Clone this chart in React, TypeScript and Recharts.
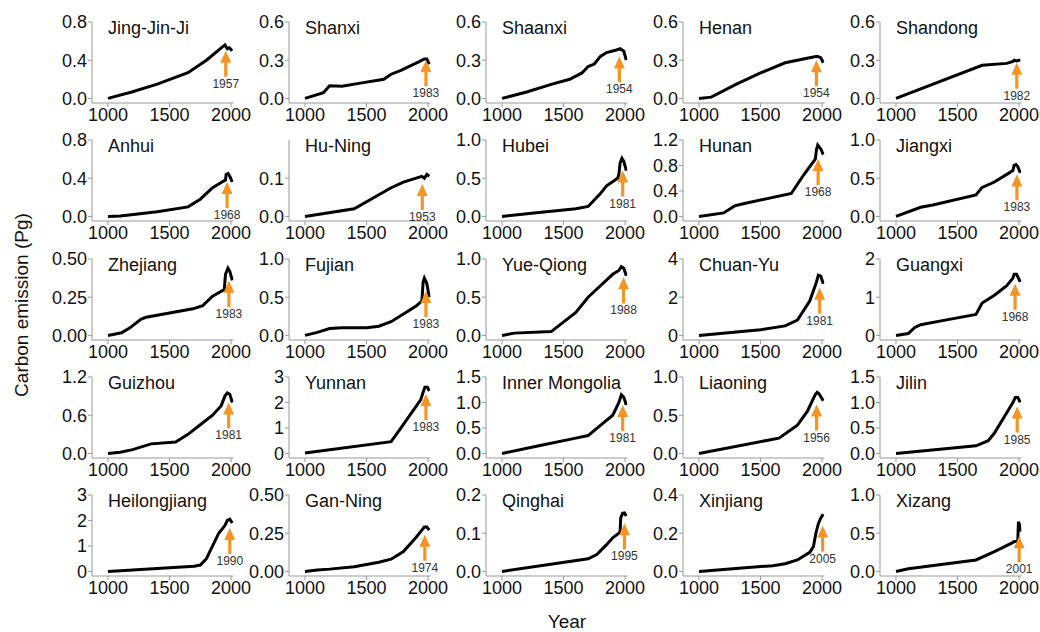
import { LineChart, Line, XAxis, YAxis, ReferenceDot } from 'recharts';

type Pt = [number, number];

const provinces = [
  'Jing-Jin-Ji', 'Shanxi', 'Shaanxi', 'Henan', 'Shandong',
  'Anhui', 'Hu-Ning', 'Hubei', 'Hunan', 'Jiangxi',
  'Zhejiang', 'Fujian', 'Yue-Qiong', 'Chuan-Yu', 'Guangxi',
  'Guizhou', 'Yunnan', 'Inner Mongolia', 'Liaoning', 'Jilin',
  'Heilongjiang', 'Gan-Ning', 'Qinghai', 'Xinjiang', 'Xizang',
];

// year of peak emission marked with the orange arrow
const peakYears = [
  1957, 1983, 1954, 1954, 1982,
  1968, 1953, 1981, 1968, 1983,
  1983, 1983, 1988, 1981, 1968,
  1981, 1983, 1981, 1956, 1985,
  1990, 1974, 1995, 2005, 2001,
];

// value where the arrow tip sits
const arrowTips = [
  0.5, 0.3, 0.33, 0.3, 0.28,
  0.36, 0.085, 0.6, 0.9, 0.55,
  0.357, 0.58, 0.76, 2.5, 1.35,
  0.8, 2.33, 0.95, 0.64, 0.92,
  1.7, 0.24, 0.126, 0.24, 0.46,
];

const yTicks: number[][] = [
  [0, 0.4, 0.8], [0, 0.3, 0.6], [0, 0.3, 0.6], [0, 0.3, 0.6], [0, 0.3, 0.6],
  [0, 0.4, 0.8], [0, 0.1], [0, 0.5, 1], [0, 0.4, 0.8, 1.2], [0, 0.5, 1],
  [0, 0.25, 0.5], [0, 0.5, 1], [0, 0.5, 1], [0, 2, 4], [0, 1, 2],
  [0, 0.6, 1.2], [0, 1, 2, 3], [0, 0.5, 1, 1.5], [0, 0.5, 1], [0, 0.5, 1, 1.5],
  [0, 1, 2, 3], [0, 0.25, 0.5], [0, 0.1, 0.2], [0, 0.2, 0.4], [0, 0.5, 1],
];

const yTops = [
  0.8, 0.6, 0.6, 0.6, 0.6,
  0.8, 0.2, 1, 1.2, 1,
  0.5, 1, 1, 4, 2,
  1.2, 3, 1.5, 1, 1.5,
  3, 0.5, 0.2, 0.4, 1,
];

const yDecimals = [
  1, 1, 1, 1, 1,
  1, 1, 1, 1, 1,
  2, 1, 1, 0, 0,
  1, 0, 1, 1, 1,
  0, 2, 1, 1, 1,
];

const xTicks = [1000, 1500, 2000];

const jingJinJi: Pt[] = [[1000, 0], [1200, 0.07], [1400, 0.15], [1650, 0.27], [1800, 0.4], [1950, 0.56], [1970, 0.52], [1985, 0.53], [2000, 0.51], [2010, 0.52]];
const shanxi: Pt[] = [[1000, 0], [1150, 0.045], [1200, 0.1], [1300, 0.095], [1450, 0.12], [1640, 0.15], [1700, 0.19], [1780, 0.22], [1920, 0.285], [1970, 0.31], [1990, 0.31], [2010, 0.27]];
const shaanxi: Pt[] = [[1000, 0], [1200, 0.05], [1400, 0.11], [1550, 0.15], [1650, 0.2], [1700, 0.25], [1750, 0.27], [1800, 0.33], [1850, 0.36], [1930, 0.38], [1960, 0.39], [1990, 0.37], [2010, 0.3]];
const henan: Pt[] = [[1000, 0], [1100, 0.01], [1300, 0.11], [1500, 0.2], [1700, 0.28], [1800, 0.3], [1900, 0.32], [1960, 0.33], [1990, 0.32], [2010, 0.28]];
const shandong: Pt[] = [[1000, 0], [1700, 0.26], [1900, 0.275], [1950, 0.29], [1960, 0.3], [1980, 0.295], [2000, 0.3], [2010, 0.3]];
const anhui: Pt[] = [[1000, 0], [1100, 0.005], [1400, 0.05], [1650, 0.1], [1750, 0.18], [1850, 0.3], [1940, 0.37], [1955, 0.38], [1960, 0.44], [1975, 0.45], [1990, 0.42], [2010, 0.36]];
const huNing: Pt[] = [[1000, 0], [1400, 0.02], [1700, 0.075], [1800, 0.09], [1950, 0.105], [1970, 0.1], [1990, 0.11], [2010, 0.105]];
const hubei: Pt[] = [[1000, 0], [1300, 0.05], [1600, 0.1], [1700, 0.13], [1800, 0.3], [1850, 0.4], [1940, 0.5], [1950, 0.55], [1960, 0.7], [1975, 0.76], [1990, 0.72], [2010, 0.6]];
const hunan: Pt[] = [[1000, 0], [1200, 0.055], [1290, 0.165], [1360, 0.2], [1750, 0.36], [1850, 0.65], [1945, 0.9], [1955, 1.05], [1965, 1.12], [1990, 1.06], [2010, 0.97]];
const jiangxi: Pt[] = [[1000, 0], [1200, 0.12], [1300, 0.15], [1650, 0.28], [1700, 0.38], [1800, 0.45], [1900, 0.55], [1950, 0.6], [1960, 0.67], [1975, 0.68], [1990, 0.65], [2010, 0.57]];
const zhejiang: Pt[] = [[1000, 0], [1110, 0.017], [1175, 0.048], [1270, 0.107], [1310, 0.119], [1690, 0.174], [1770, 0.195], [1850, 0.257], [1945, 0.3], [1955, 0.4], [1975, 0.44], [1990, 0.42], [2010, 0.36]];
const fujian: Pt[] = [[1000, 0], [1100, 0.04], [1200, 0.09], [1300, 0.1], [1500, 0.1], [1600, 0.12], [1700, 0.18], [1800, 0.28], [1900, 0.38], [1950, 0.45], [1960, 0.7], [1970, 0.75], [1990, 0.68], [2010, 0.5]];
const yueQiong: Pt[] = [[1000, 0], [1100, 0.03], [1400, 0.05], [1600, 0.3], [1700, 0.5], [1800, 0.65], [1900, 0.8], [1950, 0.85], [1970, 0.9], [1990, 0.88], [2010, 0.78]];
const chuanYu: Pt[] = [[1000, 0], [1500, 0.3], [1700, 0.5], [1800, 0.8], [1900, 1.8], [1950, 2.7], [1970, 3.15], [1990, 3.1], [2010, 2.7]];
const guangxi: Pt[] = [[1000, 0], [1100, 0.05], [1150, 0.2], [1200, 0.28], [1400, 0.4], [1650, 0.55], [1700, 0.85], [1800, 1.05], [1900, 1.3], [1950, 1.5], [1960, 1.6], [1980, 1.6], [2010, 1.4]];
const guizhou: Pt[] = [[1000, 0], [1100, 0.02], [1200, 0.06], [1350, 0.15], [1550, 0.18], [1650, 0.3], [1750, 0.45], [1850, 0.6], [1920, 0.75], [1950, 0.9], [1970, 0.95], [1990, 0.93], [2010, 0.8]];
const yunnan: Pt[] = [[1000, 0.02], [1700, 0.46], [1780, 1.0], [1940, 2.1], [1960, 2.4], [1975, 2.6], [1995, 2.6], [2010, 2.45]];
const innerMongolia: Pt[] = [[1000, 0], [1300, 0.15], [1600, 0.3], [1700, 0.35], [1800, 0.55], [1900, 0.75], [1950, 1.0], [1970, 1.15], [1990, 1.1], [2010, 0.95]];
const liaoning: Pt[] = [[1000, 0], [1650, 0.2], [1730, 0.29], [1800, 0.37], [1880, 0.55], [1945, 0.77], [1960, 0.8], [1975, 0.78], [2010, 0.69]];
const jilin: Pt[] = [[1000, 0], [1650, 0.15], [1750, 0.25], [1800, 0.4], [1900, 0.8], [1950, 1.0], [1970, 1.1], [1990, 1.1], [2010, 1.0]];
const heilongjiang: Pt[] = [[1000, 0], [1700, 0.2], [1750, 0.25], [1800, 0.5], [1900, 1.5], [1950, 1.8], [1970, 2.0], [1990, 2.05], [2010, 1.9]];
const ganNing: Pt[] = [[1000, 0], [1100, 0.01], [1200, 0.015], [1400, 0.03], [1600, 0.06], [1700, 0.08], [1800, 0.13], [1900, 0.22], [1950, 0.27], [1970, 0.29], [1990, 0.29], [2010, 0.27]];
const qinghai: Pt[] = [[1000, 0], [1700, 0.033], [1770, 0.044], [1850, 0.07], [1900, 0.088], [1950, 0.1], [1960, 0.105], [1965, 0.14], [1980, 0.152], [1995, 0.153], [2010, 0.145]];
const xinjiang: Pt[] = [[1000, 0], [1300, 0.015], [1600, 0.03], [1700, 0.04], [1800, 0.06], [1900, 0.1], [1930, 0.13], [1950, 0.2], [1970, 0.25], [1990, 0.28], [2010, 0.3]];
const xizang: Pt[] = [[1000, 0], [1100, 0.035], [1650, 0.15], [1800, 0.26], [1940, 0.37], [1960, 0.39], [1985, 0.39], [1990, 0.4], [1995, 0.65], [2000, 0.63], [2005, 0.6], [2010, 0.52]];

const emissions = [
  jingJinJi, shanxi, shaanxi, henan, shandong,
  anhui, huNing, hubei, hunan, jiangxi,
  zhejiang, fujian, yueQiong, chuanYu, guangxi,
  guizhou, yunnan, innerMongolia, liaoning, jilin,
  heilongjiang, ganNing, qinghai, xinjiang, xizang,
];

const FONT = 'Arial, "Liberation Sans", sans-serif';
const ORANGE = '#f39425';

function Arrow({ cx, cy, year }: { cx?: number; cy?: number; year: number }) {
  if (cx == null || cy == null) return null;
  return (
    <g>
      <line x1={cx} y1={cy + 8} x2={cx} y2={cy + 26} stroke={ORANGE} strokeWidth={3.2} />
      <polygon points={`${cx},${cy} ${cx - 5.5},${cy + 12} ${cx + 5.5},${cy + 12}`} fill={ORANGE} />
      <text x={cx} y={cy + 37} textAnchor="middle" fontSize={12} fill="#333" fontFamily={FONT}>
        {year}
      </text>
    </g>
  );
}

function Panel({ idx }: { idx: number }) {
  const col = idx % 5;
  const row = Math.floor(idx / 5);
  const top = yTops[idx];
  const dec = yDecimals[idx];
  const data = emissions[idx].map(([year, value]) => ({ year, value }));
  return (
    <div style={{ position: 'absolute', left: col * 197, top: row * 118.25, width: 260, height: 140 }}>
      <LineChart width={260} height={140} data={data} margin={{ top: 22, right: 26.5, bottom: 7, left: 32 }}>
        <XAxis
          type="number"
          dataKey="year"
          domain={[870, 2020]}
          ticks={xTicks}
          allowDataOverflow
          interval={0}
          height={30}
          tickSize={4}
          tickMargin={1}
          stroke="#999"
          tick={{ fill: '#111', fontSize: 18, fontFamily: FONT }}
        />
        <YAxis
          type="number"
          domain={[-0.06 * top, top]}
          ticks={yTicks[idx]}
          allowDataOverflow
          interval={0}
          width={60}
          tickSize={4}
          tickMargin={1}
          stroke="#999"
          tick={{ fill: '#111', fontSize: 18, fontFamily: FONT }}
          tickFormatter={(v: number) => v.toFixed(dec)}
        />
        <Line
          type="linear"
          dataKey="value"
          stroke="#000"
          strokeWidth={3}
          dot={false}
          isAnimationActive={false}
        />
        <ReferenceDot
          x={peakYears[idx]}
          y={arrowTips[idx]}
          ifOverflow="visible"
          shape={(p: any) => <Arrow cx={p.cx} cy={p.cy} year={peakYears[idx]} />}
        />
      </LineChart>
      <div
        style={{
          position: 'absolute',
          left: 108,
          top: 18,
          fontSize: 18,
          fontFamily: FONT,
          color: '#111',
          whiteSpace: 'nowrap',
        }}
      >
        {provinces[idx]}
      </div>
    </div>
  );
}

export default function App() {
  return (
    <div style={{ position: 'absolute', left: 0, top: 0, width: 1040, height: 632, background: '#fff', overflow: 'hidden' }}>
      {provinces.map((_, i) => (
        <Panel key={i} idx={i} />
      ))}
      <svg width={1040} height={632} style={{ position: 'absolute', left: 0, top: 0, pointerEvents: 'none' }}>
        <text
          x={23}
          y={305}
          transform="rotate(-90 23 305)"
          textAnchor="middle"
          dominantBaseline="middle"
          fontSize={19}
          fontFamily={FONT}
          fill="#111"
        >
          Carbon emission (Pg)
        </text>
        <text x={567} y={623} textAnchor="middle" dominantBaseline="middle" fontSize={19} fontFamily={FONT} fill="#111">
          Year
        </text>
      </svg>
    </div>
  );
}
